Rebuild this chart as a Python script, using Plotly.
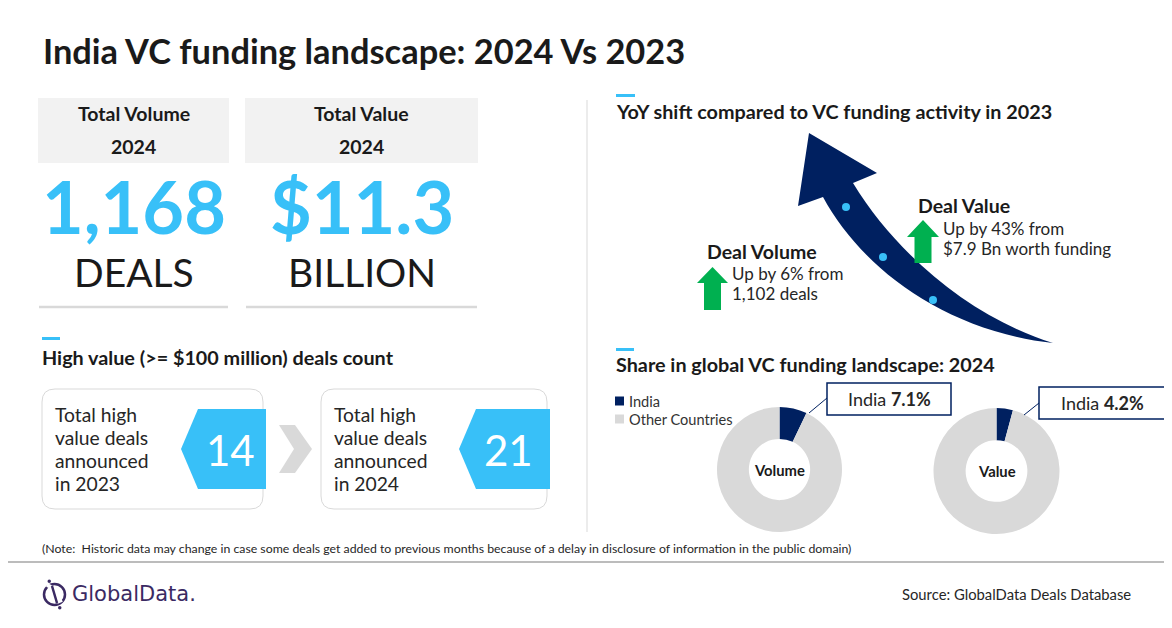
import plotly.graph_objects as go

# page body keeps an 8px margin, so the figure starts at (8, 8) in the window
OFF = 8
W, H = 1172 - OFF, 628 - OFF
FONT = "Lato, 'Open Sans', sans-serif"
DARK = "#1a1a1a"
CYAN = "#38c0f8"
NAVY = "#002060"
GREEN = "#00b050"
LIGHT = "#d9d9d9"

title = "India VC funding landscape: 2024 Vs 2023"

# headline numbers for 2024
kpi_titles = ["Total Volume", "Total Value"]
kpi_year = "2024"
kpi_values = ["1,168", "$11.3"]
kpi_units = ["DEALS", "BILLION"]

# deals worth >= $100 million
hv_years = [2023, 2024]
hv_counts = [14, 21]

# YoY shift vs 2023
yoy_metrics = ["Deal Volume", "Deal Value"]
yoy_change = [6, 43]
yoy_base = ["1,102 deals", "$7.9 Bn worth funding"]

# share of global VC funding, 2024
share_metrics = ["Volume", "Value"]
share_categories = ["India", "Other Countries"]
india_share = [7.1, 4.2]

note = ("(Note:  Historic data may change in case some deals get added to previous months "
        "because of a delay in disclosure of information in the public domain)")
source = "Source: GlobalData Deals Database"


shapes = []
annotations = []


def txt(x, y, text, size, color=DARK, anchor="left", family=FONT):
    annotations.append(dict(x=x, y=y, xref="x", yref="y", text=text, showarrow=False,
                            xanchor=anchor, yanchor="middle", align=anchor,
                            font=dict(family=family, size=size, color=color)))


def path(d, fill=None, line=None, width=0, layer="above"):
    shapes.append(dict(type="path", path=d, xref="x", yref="y", layer=layer,
                       fillcolor=fill if fill else "rgba(0,0,0,0)",
                       line=dict(color=line if line else "rgba(0,0,0,0)", width=width)))


def rect(x0, y0, x1, y1, fill=None, line=None, width=0):
    shapes.append(dict(type="rect", x0=x0, y0=y0, x1=x1, y1=y1, xref="x", yref="y",
                       fillcolor=fill if fill else "rgba(0,0,0,0)",
                       line=dict(color=line if line else "rgba(0,0,0,0)", width=width)))


def seg(x0, y0, x1, y1, color, width=1):
    shapes.append(dict(type="line", x0=x0, y0=y0, x1=x1, y1=y1, xref="x", yref="y",
                       line=dict(color=color, width=width)))


def rrect(x0, y0, x1, y1, r):
    return (f"M{x0+r},{y0} L{x1-r},{y0} Q{x1},{y0} {x1},{y0+r} L{x1},{y1-r} "
            f"Q{x1},{y1} {x1-r},{y1} L{x0+r},{y1} Q{x0},{y1} {x0},{y1-r} "
            f"L{x0},{y0+r} Q{x0},{y0} {x0+r},{y0} Z")


# title
txt(41, 50, f"<b>{title}</b>", 34.4)

# KPI cards
kpi_x = [(38, 229), (245, 478)]
for i, (x0, x1) in enumerate(kpi_x):
    cx = (x0 + x1) / 2
    rect(x0, 98, x1, 163, fill="#f2f2f2")
    txt(cx, 113, f"<b>{kpi_titles[i]}</b>", 19.5, anchor="center")
    txt(cx, 146, f"<b>{kpi_year}</b>", 19.5, anchor="center")
    txt(cx, 206, f"<b>{kpi_values[i]}</b>", 72, color=CYAN, anchor="center")
    txt(cx, 272, kpi_units[i], 39, anchor="center")
    seg(x0 + 1, 307, x1 - 1, 307, LIGHT, 2.5)

# high value deal boxes
rect(42, 337, 60, 340, fill=CYAN)
txt(40, 357, "<b>High value (>= $100 million) deals count</b>", 19.8)
box_x = [(42, 263), (321, 547)]
tag_x = [(181, 266), (459, 550)]
for i, (x0, x1) in enumerate(box_x):
    path(rrect(x0, 389, x1, 509, 13), fill="white", line=LIGHT, width=1)
    t0, t1 = tag_x[i]
    path(f"M{t0},449 L{t0+17},409 L{t1},409 L{t1},489 L{t0+17},489 Z", fill=CYAN)
    lines = ["Total high", "value deals", "announced", f"in {hv_years[i]}"]
    for k, line in enumerate(lines):
        txt(x0 + 11, 414 + 23 * k, line, 19.3, color="#262626")
    txt(t0 + 49, 450, str(hv_counts[i]), 42, color="white", anchor="center")
path("M279,425 L295,425 L312,449 L295,473 L279,473 L294,449 Z", fill=LIGHT)

# divider
seg(587, 100, 587, 532, LIGHT, 1)

# YoY section
rect(616, 94, 635, 97, fill=CYAN)
txt(614, 111, "<b>YoY shift compared to VC funding activity in 2023</b>", 19.8)

# big curved arrow
path("M1053,343 C972,318 897,255 853,183 L877,173 L809,133 L798,206 L823,197 "
     "C860,265 940,330 1053,343 Z", fill=NAVY, layer="below")


def up_arrow(cx, top, base, bottom, hh, sh):
    return (f"M{cx},{top} L{cx+hh},{base} L{cx+sh},{base} L{cx+sh},{bottom} "
            f"L{cx-sh},{bottom} L{cx-sh},{base} L{cx-hh},{base} Z")


yoy_pos = [dict(arrow=(712.5, 267, 283, 310, 15.5, 8.5), head=(705, 251), body=(730, 273)),
           dict(arrow=(923, 220, 237, 263, 16, 8.5), head=(916, 205), body=(941, 228))]
for i, p in enumerate(yoy_pos):
    path(up_arrow(*p["arrow"]), fill=GREEN)
    txt(*p["head"], f"<b>{yoy_metrics[i]}</b>", 19.5)
    bx, by = p["body"]
    txt(bx, by, f"Up by {yoy_change[i]}% from", 17, color="#262626")
    txt(bx, by + 20, yoy_base[i], 17, color="#262626")

# share section
rect(616, 348, 634, 351, fill=CYAN)
txt(614, 364, "<b>Share in global VC funding landscape: 2024</b>", 19.8)

legend_colors = [NAVY, LIGHT]
for i, cat in enumerate(share_categories):
    yy = 401 + 18 * i
    rect(615, yy - 4.5, 624, yy + 4.5, fill=legend_colors[i])
    txt(627, yy, cat, 14.6, color="#333333")

pie_pos = [dict(c=(779.5, 469.5), r=62.5, box=(827, 383, 951, 415), lead=(809, 413, 827, 398)),
           dict(c=(996.5, 471), r=63, box=(1039, 387, 1166, 419), lead=(1024, 415, 1039, 403))]

fig = go.Figure()

for i, p in enumerate(pie_pos):
    cx, cy = p["c"]
    r = p["r"]
    fig.add_trace(go.Pie(
        labels=share_categories,
        values=[india_share[i], 100 - india_share[i]],
        hole=0.49,
        sort=False,
        direction="clockwise",
        rotation=0,
        marker=dict(colors=legend_colors),
        textinfo="none",
        showlegend=False,
        domain=dict(x=[(cx - r - OFF) / W, (cx + r - OFF) / W],
                    y=[1 - (cy + r - OFF) / H, 1 - (cy - r - OFF) / H]),
    ))
    txt(cx, cy, f"<b>{share_metrics[i]}</b>", 14.8, anchor="center")
    bx0, by0, bx1, by1 = p["box"]
    rect(bx0, by0, bx1, by1, fill="white", line=NAVY, width=1.5)
    seg(*p["lead"], NAVY, 1)
    txt((bx0 + bx1) / 2, (by0 + by1) / 2, f"India <b>{india_share[i]}%</b>", 18,
        color="#262626", anchor="center")

# dots on the curved arrow
fig.add_trace(go.Scatter(x=[846, 883, 933], y=[207, 257, 300], mode="markers",
                         marker=dict(color=CYAN, size=8), hoverinfo="skip", showlegend=False))

# footer
txt(40, 548, note, 12.3, color="#262626")
seg(OFF, 562, 1172, 562, "#a6a6a6", 1.5)
shapes.append(dict(type="circle", x0=44, y0=584, x1=65, y1=605, xref="x", yref="y",
                   line=dict(color="#3b2a63", width=2.5)))
seg(47, 585, 51, 587, "white", 4)
seg(57, 602, 62, 600, "white", 4)
seg(52, 586, 57, 603, "#3b2a63", 2.5)
shapes.append(dict(type="circle", x0=47.5, y0=579.5, x1=51, y1=583, xref="x", yref="y",
                   fillcolor="#3b2a63", line=dict(width=0)))
shapes.append(dict(type="circle", x0=58, y0=606, x1=61.5, y1=609.5, xref="x", yref="y",
                   fillcolor="#3b2a63", line=dict(width=0)))
txt(70, 594, "GlobalData.", 21, color="#3b2a63", family="'DejaVu Sans', sans-serif")
txt(1133, 594, source, 14.8, color="#262626", anchor="right")

fig.update_layout(
    width=W,
    height=H,
    margin=dict(l=0, r=0, t=0, b=0),
    paper_bgcolor="white",
    plot_bgcolor="white",
    xaxis=dict(range=[OFF, 1172], visible=False, fixedrange=True),
    yaxis=dict(range=[628, OFF], visible=False, fixedrange=True),
    shapes=shapes,
    annotations=annotations,
    font=dict(family=FONT),
    showlegend=False,
)

fig.write_html("out.html")
